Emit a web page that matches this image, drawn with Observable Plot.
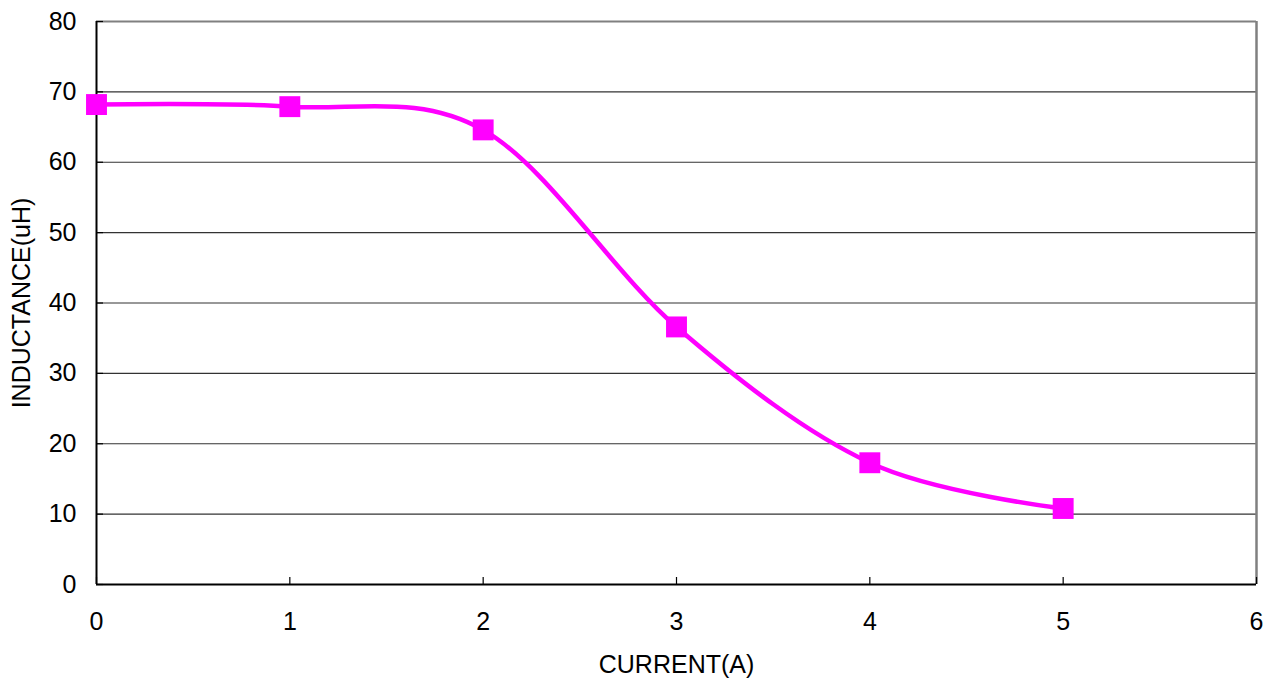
<!DOCTYPE html>
<html>
<head>
<meta charset="utf-8">
<script src="https://cdn.jsdelivr.net/npm/d3@7"></script>
<script src="https://cdn.jsdelivr.net/npm/@observablehq/plot@0.6"></script>
<style>
  html, body { margin: 0; padding: 0; background: #fff; }
  #chart svg { display: block; }
</style>
</head>
<body>
<div id="chart"></div>
<script>
const current = [0, 1, 2, 3, 4, 5];
const inductance = [68.2, 67.9, 64.6, 36.6, 17.3, 10.8];
const xTicks = [0, 1, 2, 3, 4, 5, 6];
const yTicks = [0, 10, 20, 30, 40, 50, 60, 70, 80];
const gridValues = [10, 20, 30, 40, 50, 60, 70];

const data = current.map((c, i) => ({current: c, inductance: inductance[i]}));

const W = 1276, H = 678;
const mL = 96, mR = 20, mT = 21, mB = 94;
const innerW = W - mL - mR, innerH = H - mT - mB;

const chart = Plot.plot({
  width: W,
  height: H,
  marginLeft: mL,
  marginRight: mR,
  marginTop: mT,
  marginBottom: mB,
  style: {fontFamily: "Liberation Sans, Arial, sans-serif", fontSize: "25px", color: "#000", background: "#fff"},
  x: {domain: [0, 6]},
  y: {domain: [0, 80]},
  marks: [
    Plot.ruleY(gridValues, {stroke: "#333", strokeWidth: 1.2, strokeOpacity: 1}),
    Plot.ruleY([80], {stroke: "#808080", strokeWidth: 2}),
    Plot.ruleX([6], {stroke: "#808080", strokeWidth: 2.5}),
    Plot.tickX(xTicks, {x: d => d, insetTop: innerH - 7, stroke: "#000", strokeWidth: 1.2}),
    Plot.tickY(yTicks, {y: d => d, insetRight: innerW - 7, stroke: "#000", strokeWidth: 1.2}),
    Plot.ruleX([0], {stroke: "#000", strokeWidth: 2}),
    Plot.ruleY([0], {stroke: "#000", strokeWidth: 2}),
    Plot.axisX({ticks: xTicks, tickFormat: d3.format("d"), tickSize: 0, tickPadding: 28, fontSize: 25,
      label: "CURRENT(A)", labelAnchor: "center", labelArrow: "none", labelOffset: 88}),
    Plot.axisY({ticks: yTicks, tickFormat: d3.format("d"), tickSize: 0, tickPadding: 20, fontSize: 25,
      label: "INDUCTANCE(uH)", labelAnchor: "center", labelArrow: "none", labelOffset: 84}),
    Plot.line(data, {x: "current", y: "inductance", curve: "cardinal", tension: 0,
      stroke: "#ff00ff", strokeWidth: 4.5}),
    Plot.dot(data, {x: "current", y: "inductance", symbol: "square", r: 11.8,
      fill: "#ff00ff", stroke: "none"})
  ]
});
document.getElementById("chart").appendChild(chart);
</script>
</body>
</html>
